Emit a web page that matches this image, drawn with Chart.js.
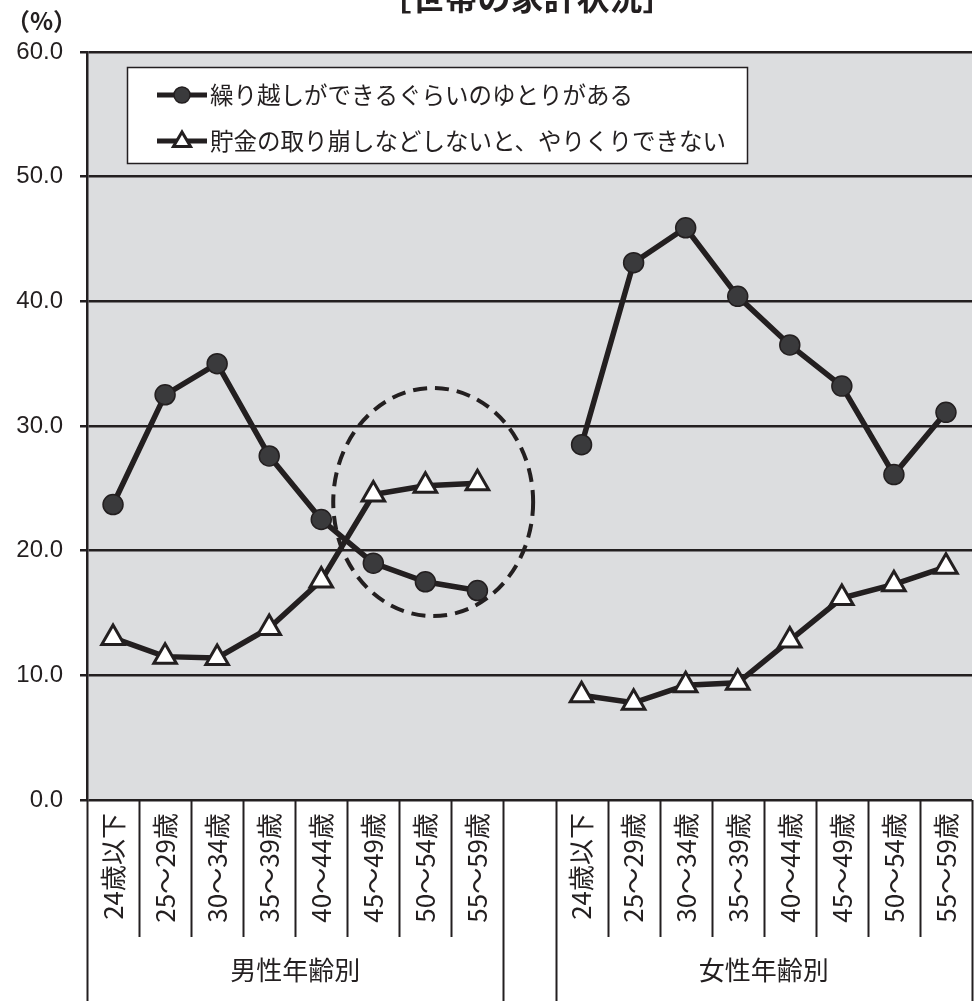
<!DOCTYPE html>
<html>
<head>
<meta charset="utf-8">
<script src="https://cdn.jsdelivr.net/npm/chart.js@4.4.1/dist/chart.umd.min.js"></script>
<style>
  body { margin: 0; background: #fff; }
  canvas { display: block; }
</style>
</head>
<body>
<canvas id="kakei" width="978" height="1001"></canvas>
<script>
// 年齢区分（男性8区分・空欄・女性8区分）
const ageLabels = ['24歳以下', '25～29歳', '30～34歳', '35～39歳', '40～44歳', '45～49歳', '50～54歳', '55～59歳'];
const categories = [...ageLabels, '', ...ageLabels];
const groupNames = ['男性年齢別', '女性年齢別'];

// 繰り越しができるぐらいのゆとりがある
const yutoriMale = [23.7, 32.5, 35.0, 27.6, 22.5, 19.0, 17.5, 16.8];
const yutoriFemale = [28.5, 43.1, 45.9, 40.4, 36.5, 33.2, 26.1, 31.1];
// 貯金の取り崩しなどしないと、やりくりできない
const torikuzushiMale = [13.0, 11.5, 11.4, 13.8, 17.6, 24.5, 25.2, 25.4];
const torikuzushiFemale = [8.4, 7.8, 9.2, 9.4, 12.8, 16.2, 17.3, 18.7];

const seriesNames = ['繰り越しができるぐらいのゆとりがある', '貯金の取り崩しなどしないと、やりくりできない'];
const yTicks = [0, 10, 20, 30, 40, 50, 60];

const INK = '#231f20';
const JP = '"Noto Sans CJK JP", "Noto Sans", sans-serif';

// 点線の楕円（45～59歳あたりを囲む）: カテゴリ位置と値で指定
const ring = { cx: 6.15, cy: 23.9, rx: 1.92, ry: 9.15 };

// 背景・区切り線・縦書きラベル・グループ名・凡例・楕円・タイトル
const decor = {
  id: 'decor',
  beforeDraw(chart) {
    const { ctx, chartArea: a } = chart;
    ctx.save();
    ctx.fillStyle = '#dcdddf';
    ctx.fillRect(a.left, a.top, a.right - a.left, a.bottom - a.top);
    ctx.restore();
  },
  beforeDatasetsDraw(chart) {
    const { ctx, scales: { x, y } } = chart;
    const step = x.getPixelForValue(1) - x.getPixelForValue(0);
    const cx = x.getPixelForValue(0) + ring.cx * step;
    const cy = y.getPixelForValue(ring.cy);
    const rx = ring.rx * step;
    const ry = Math.abs(y.getPixelForValue(ring.cy + ring.ry) - cy);
    ctx.save();
    ctx.strokeStyle = INK;
    ctx.lineWidth = 4;
    ctx.setLineDash([14, 8]);
    ctx.beginPath();
    ctx.ellipse(cx, cy, rx, ry, 0, 0, Math.PI * 2);
    ctx.stroke();
    ctx.restore();
  },
  afterDraw(chart) {
    const { ctx, chartArea: a, scales: { x } } = chart;
    const n = categories.length;
    const edge = i => i === 0 ? a.left : i === n ? a.right
      : (x.getPixelForValue(i - 1) + x.getPixelForValue(i)) / 2;
    const longEdges = [0, 8, 9, n];
    ctx.save();
    ctx.strokeStyle = INK;
    ctx.lineWidth = 2;
    for (let i = 0; i <= n; i++) {
      const long = longEdges.includes(i);
      const px = Math.min(Math.round(edge(i)) + 0.5, chart.width - 1);
      ctx.beginPath();
      ctx.moveTo(px, a.bottom);
      ctx.lineTo(px, long ? chart.height : a.bottom + 137);
      ctx.stroke();
    }

    // 年齢区分ラベル（下から上へ読む縦書き）
    ctx.fillStyle = INK;
    ctx.font = '26px ' + JP;
    ctx.textAlign = 'right';
    ctx.textBaseline = 'middle';
    categories.forEach((lab, i) => {
      if (!lab) return;
      ctx.save();
      ctx.translate(x.getPixelForValue(i), a.bottom + 13);
      ctx.rotate(-Math.PI / 2);
      ctx.fillText(lab, 0, 0);
      ctx.restore();
    });

    // グループ名
    ctx.textAlign = 'center';
    ctx.fillText(groupNames[0], (edge(0) + edge(8)) / 2, 970);
    ctx.fillText(groupNames[1], (edge(9) + edge(n)) / 2, 970);

    // タイトルと単位
    ctx.font = 'bold 33px ' + JP;
    ctx.fillText('［世帯の家計状況］', 527, -3);
    ctx.font = 'bold 24px ' + JP;
    ctx.textAlign = 'left';
    ctx.fillText('（%）', 6, 21);

    // 凡例
    const box = { l: 127.5, t: 67.5, w: 620, h: 96 };
    ctx.fillStyle = '#fff';
    ctx.fillRect(box.l, box.t, box.w, box.h);
    ctx.lineWidth = 1.5;
    ctx.strokeRect(box.l, box.t, box.w, box.h);
    ctx.font = '23.5px ' + JP;
    const rows = [95, 141];
    chart.data.datasets.forEach((ds, i) => {
      if (i > 1) return;
      const ry = rows[i];
      ctx.strokeStyle = INK;
      ctx.lineWidth = 5;
      ctx.beginPath();
      ctx.moveTo(157, ry);
      ctx.lineTo(207, ry);
      ctx.stroke();
      ctx.lineWidth = ds.pointBorderWidth;
      ctx.fillStyle = ds.pointBackgroundColor;
      ctx.strokeStyle = ds.pointBorderColor;
      ctx.beginPath();
      if (ds.pointStyle === 'triangle') {
        const r = 9;
        ctx.moveTo(182, ry - r);
        ctx.lineTo(182 + r * 0.95, ry + r * 0.6);
        ctx.lineTo(182 - r * 0.95, ry + r * 0.6);
        ctx.closePath();
      } else {
        ctx.arc(182, ry, 8, 0, Math.PI * 2);
      }
      ctx.fill();
      ctx.stroke();
      ctx.fillStyle = INK;
      ctx.textAlign = 'left';
      ctx.fillText(seriesNames[i], 210, ry);
    });
    ctx.restore();
  }
};

const lineStyle = {
  borderColor: INK,
  borderWidth: 5.5,
  tension: 0,
  spanGaps: false
};
const circle = {
  pointStyle: 'circle',
  pointRadius: 10,
  pointBackgroundColor: '#3a3a3c',
  pointBorderColor: INK,
  pointBorderWidth: 1.5
};
const triangle = {
  pointStyle: 'triangle',
  pointRadius: 13,
  pointBackgroundColor: '#ffffff',
  pointBorderColor: INK,
  pointBorderWidth: 3
};

new Chart(document.getElementById('kakei'), {
  type: 'line',
  data: {
    labels: categories,
    datasets: [
      { label: seriesNames[0], data: [...yutoriMale, null, ...yutoriFemale], ...lineStyle, ...circle },
      { label: seriesNames[1], data: [...torikuzushiMale, null, ...torikuzushiFemale], ...lineStyle, ...triangle }
    ]
  },
  options: {
    responsive: false,
    animation: false,
    // マーカー分の自動余白は付けない（右端まで描画領域を使う）
    layout: { autoPadding: false, padding: { top: 52, right: 6, left: 0, bottom: 0 } },
    plugins: { legend: { display: false }, tooltip: { enabled: false } },
    scales: {
      x: {
        offset: true,
        grid: { display: false },
        border: { display: false },
        ticks: { display: false },
        afterFit(s) { s.height = 201; }
      },
      y: {
        min: 0,
        max: 60,
        afterBuildTicks(s) { s.ticks = yTicks.map(v => ({ value: v })); },
        ticks: {
          callback: v => v.toFixed(1),
          color: INK,
          padding: 17,
          font: { family: '"Liberation Sans", sans-serif', size: 24 }
        },
        grid: { color: INK, lineWidth: 2.5, tickLength: 7 },
        border: { color: INK, width: 2.5 },
        afterFit(s) { s.width = 87; }
      }
    }
  },
  plugins: [decor]
});
</script>
</body>
</html>
